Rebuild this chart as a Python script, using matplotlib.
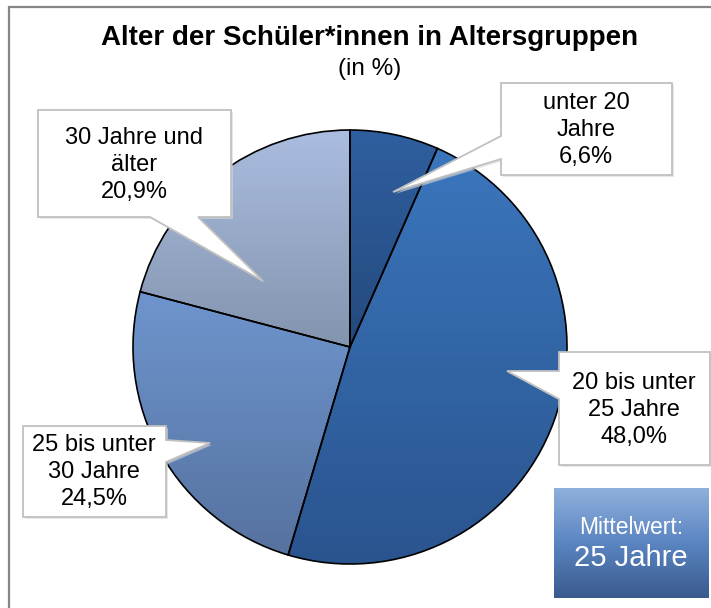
import numpy as np
import matplotlib
matplotlib.use("Agg")
import matplotlib.pyplot as plt
from matplotlib.colors import LinearSegmentedColormap
from matplotlib.patches import Polygon
from matplotlib.lines import Line2D

plt.rcParams['font.family'] = ['Liberation Sans', 'DejaVu Sans']

# ---------------- data ----------------
title = "Alter der Schüler*innen in Altersgruppen"
subtitle = "(in %)"
categories = ["unter 20\nJahre", "20 bis unter\n25 Jahre", "25 bis unter\n30 Jahre", "30 Jahre und\nälter"]
shares = [6.6, 48.0, 24.5, 20.9]
mean_label = "Mittelwert:"
mean_value = "25 Jahre"

# slice gradient colours (top -> bottom)
top_colors = ["#2f5f9f", "#3b76bd", "#6e95ce", "#abbde0"]
bottom_colors = ["#244a7e", "#2a548e", "#56729f", "#8394ae"]

# ---------------- layout (pixels, origin top-left) ----------------
W, H = 711, 608
fig = plt.figure(figsize=(W / 100, H / 100), dpi=100)
ax = fig.add_axes([0, 0, 1, 1])


def P(x, y):
    return (x, H - y)


pie_center = P(350, 347)
pie_radius = 217

wedges, _ = ax.pie(shares, startangle=90, counterclock=False,
                   center=pie_center, radius=pie_radius,
                   wedgeprops=dict(edgecolor="black", linewidth=1.2))

grad = np.linspace(0, 1, 256).reshape(-1, 1)
for w, c0, c1 in zip(wedges, top_colors, bottom_colors):
    w.set_facecolor("none")
    w.set_zorder(3)
    bb = w.get_path().get_extents()
    cmap = LinearSegmentedColormap.from_list("g", [c1, c0])
    im = ax.imshow(grad, cmap=cmap, extent=[bb.x0, bb.x1, bb.y0, bb.y1],
                   origin="lower", aspect="auto", zorder=2,
                   interpolation="bilinear")
    im.set_clip_path(w)

# ---------------- callouts ----------------
callout_shapes = [
    [(501, 83), (672, 83), (672, 175), (501, 175), (501, 159), (393, 192), (501, 136)],
    [(559, 352), (710, 352), (710, 465), (559, 465), (559, 399), (507, 371), (559, 371)],
    [(23, 426), (166, 426), (166, 440), (210, 443), (166, 462), (166, 517), (23, 517)],
    [(38, 110), (231, 110), (231, 217), (198, 217), (263, 281), (150, 217), (38, 217)],
]
label_pos = [(586, 130), (634, 410), (94, 472), (134, 165)]

for shape, cat, val, pos in zip(callout_shapes, categories, shares, label_pos):
    pts = [P(x, y) for x, y in shape]
    shadow = [(x + 2, y - 2) for x, y in pts]
    ax.add_patch(Polygon(shadow, closed=True, facecolor="#d8d8d8",
                         edgecolor="none", zorder=4, alpha=0.6))
    ax.add_patch(Polygon(pts, closed=True, facecolor="white",
                         edgecolor="#c0c0c0", linewidth=1.3, zorder=5,
                         joinstyle="miter"))
    txt = f"{cat}\n{val:.1f}%".replace(".", ",")
    ax.text(*P(*pos), txt, ha="center", va="center", fontsize=17,
            linespacing=1.3, color="black", zorder=6)

# ---------------- mean box ----------------
mx0, my0, mx1, my1 = 554, 488, 709, 598
mcmap = LinearSegmentedColormap.from_list("m", ["#3a5a8e", "#5a85c1", "#90b0dc"])
ax.imshow(grad, cmap=mcmap, extent=[mx0, mx1, H - my1, H - my0],
          origin="lower", aspect="auto", zorder=5, interpolation="bilinear")
ax.text(*P(631, 528), mean_label, ha="center", va="center", fontsize=16.5,
        color="white", zorder=6)
ax.text(*P(631, 558), mean_value, ha="center", va="center", fontsize=21,
        color="white", zorder=6)

# ---------------- title ----------------
ax.text(*P(370, 38), title, ha="center", va="center", fontsize=20,
        fontweight="bold", color="black", zorder=6)
ax.text(*P(370, 69), subtitle, ha="center", va="center", fontsize=17.5,
        color="black", zorder=6)

# ---------------- frame ----------------
ax.add_line(Line2D([9, 9, W + 5], [-5, H - 7, H - 7], color="#878787",
                   linewidth=1.6, zorder=7, solid_joinstyle="miter"))

ax.set_xlim(0, W)
ax.set_ylim(0, H)
ax.set_aspect("auto")
ax.axis("off")

fig.savefig("out.png", dpi=100, facecolor="white")
